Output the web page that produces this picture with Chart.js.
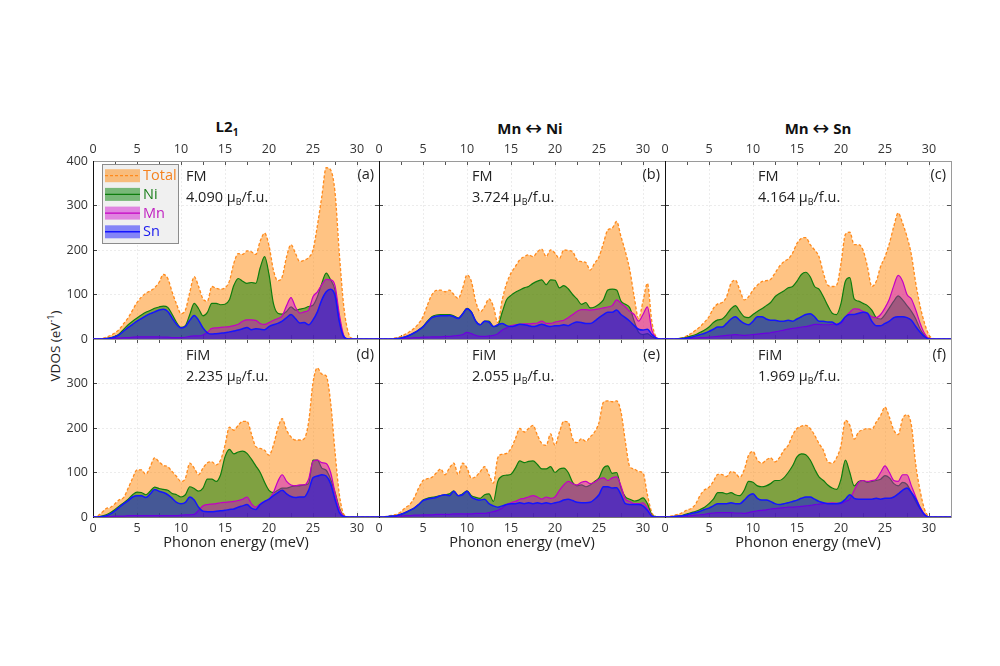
<!DOCTYPE html>
<html>
<head>
<meta charset="utf-8">
<script src="https://cdn.jsdelivr.net/npm/chart.js@4.4.0/dist/chart.umd.min.js"></script>
<style>
body { margin: 0; width: 1000px; height: 666px; background: #fff; position: relative; overflow: hidden; font-family: "Open Sans", sans-serif; }
.pan { position: absolute; }
.ttl { position: absolute; font-weight: bold; font-size: 15px; color: #111; transform: translate(-50%, -50%); white-space: nowrap; }
.ttl sub { font-size: 10px; }
.arr { font-family: "DejaVu Sans", sans-serif; font-weight: normal; font-size: 20px; line-height: 15px; vertical-align: -1px; }
#ylab { position: absolute; left: 54px; top: 346px; transform: translate(-50%, -50%) rotate(-90deg); font-size: 13.5px; color: #222; white-space: nowrap; }
#ylab sup { font-size: 9px; }
</style>
</head>
<body>
<div class="ttl" style="left:227px;top:127px">L2<sub>1</sub></div>
<div class="ttl" style="left:530px;top:128px">Mn <span class="arr">&#8596;</span> Ni</div>
<div class="ttl" style="left:818px;top:128px">Mn <span class="arr">&#8596;</span> Sn</div>
<div id="ylab">VDOS (eV<sup>-1</sup>)</div>
<script>
// energy grid (meV)
const energy = [0,0.5,1,1.5,2,2.5,3,3.5,4,4.5, 5,5.5,6,6.5,7,7.5,8,8.5,9,9.5,
  10,10.5,11,11.5,12,12.5,13,13.5,14,14.5, 15,15.5,16,16.5,17,17.5,18,18.5,19,19.5,
  20,20.5,21,21.5,22,22.5,23,23.5,24,24.5, 25,25.5,26,26.5,27,27.5,28,28.5,29,29.5,
  30,30.5,31,31.5,32,32.5];

// (a) L2_1 FM
const aTotal = [0,0,1,4,8,14,22,35,48,65, 82,94,103,108,115,127,145,136,105,78,
  57,65,105,140,118,90,85,118,114,112, 115,130,170,192,190,198,196,190,220,238,
  210,155,131,140,185,212,193,174,177,183, 200,255,320,385,380,330,190,73,15,1, 0,0,0,0,0,0];
const aNi = [0,0,0,1,3,6,12,22,32,40, 47,54,60,64,69,72,74,71,55,37,
  26,30,55,80,68,52,60,80,80,77, 78,88,120,136,130,125,127,125,160,185,
  145,80,58,56,62,72,65,67,69,73, 76,95,125,148,133,110,45,6,0,0, 0,0,0,0,0,0];
const aMn = [0,0,0,1,1,2,2,3,3,4, 5,5,5,5,5,5,4,4,3,3,
  3,4,6,7,7,9,15,24,25,26, 27,28,30,33,40,43,43,42,35,33,
  37,42,46,52,75,93,72,58,61,65, 95,106,122,134,133,120,55,8,0,0, 0,0,0,0,0,0];
const aSn = [0,0,0,1,2,5,10,18,26,33, 40,46,52,57,61,65,67,62,47,33,
  25,28,42,53,42,25,14,11,12,13, 14,16,18,20,23,26,21,23,22,21,
  28,32,35,40,48,55,46,36,37,32, 43,61,88,106,112,98,38,5,0,0, 0,0,0,0,0,0];

// (b) Mn<->Ni FM
const bTotal = [0,0,0,1,3,6,11,17,24,35, 50,76,99,109,110,106,110,100,91,114,
  144,129,84,61,73,90,73,37,88,125, 148,163,178,185,189,185,196,202,185,200,
  193,181,200,199,196,178,174,172,155,170, 185,215,245,249,264,230,196,155,95,46, 85,125,40,5,0,0];
const bNi = [0,0,0,0,1,2,5,9,14,20, 28,40,50,54,55,55,55,52,47,57,
  69,61,40,32,40,40,28,30,60,88, 98,105,110,115,118,125,130,133,122,133,
  132,115,120,113,100,90,78,82,70,72, 78,88,110,112,110,85,78,70,40,15, 10,12,5,1,0,0];
const bMn = [0,0,0,0,1,1,2,2,3,3, 4,4,5,5,5,6,6,7,8,10,
  15,12,8,6,6,7,8,12,20,25, 30,32,33,34,34,35,36,40,35,35,
  38,40,42,48,55,62,66,66,65,66, 68,70,72,75,88,80,72,62,55,40, 55,72,20,3,0,0];
const bSn = [0,0,0,0,1,2,5,9,14,20, 27,38,48,51,52,52,53,50,46,56,
  68,60,40,32,40,38,28,32,35,30, 28,30,33,32,30,28,30,33,30,28,
  30,30,32,30,35,38,37,35,35,40, 48,55,60,60,65,55,48,40,30,22, 20,22,10,2,0,0];

// (c) Mn<->Sn FM
const cTotal = [0,0,0,1,3,7,13,20,28,38, 50,69,79,82,95,125,132,110,88,95,
  110,121,129,131,134,148,163,174,180,193, 215,226,228,212,200,185,148,121,118,121,
  170,235,240,212,212,200,163,118,129,163, 185,215,253,283,260,230,189,125,73,35, 9,1,0,0,0,0];
const cNi = [0,0,0,1,2,4,7,10,15,20, 27,37,43,45,55,68,75,62,50,48,
  55,62,68,75,82,95,102,108,115,118, 130,145,150,140,118,112,95,75,58,55,
  80,130,138,90,85,80,75,65,48,45, 55,70,85,97,88,75,62,45,22,8, 1,0,0,0,0,0];
const cMn = [0,0,0,0,1,1,2,2,3,3, 4,5,6,7,8,9,10,9,8,9,
  10,11,12,13,14,16,18,20,22,24, 25,27,28,30,33,33,32,32,33,34,
  35,50,60,68,67,62,58,50,48,55, 70,90,120,143,130,100,90,65,35,12, 1,0,0,0,0,0];
const cSn = [0,0,0,0,1,2,4,7,10,13, 17,22,27,27,35,45,50,42,35,32,
  40,50,50,45,42,42,40,40,42,40, 45,50,55,57,50,40,40,38,38,32,
  38,50,55,55,58,60,58,40,30,30, 35,40,48,50,50,48,42,28,15,5, 0,0,0,0,0,0];

// (d) L2_1 FiM
const dTotal = [0,2,10,19,22,30,39,44,65,87, 106,106,96,113,133,124,116,113,102,91,
  80,87,121,110,95,110,122,124,117,128, 161,202,195,206,215,215,187,158,154,150,
  139,161,199,221,195,180,173,173,176,213, 302,335,321,317,258,147,50,6,0,0, 0,0,0,0,0,0];
const dNi = [0,0,2,5,10,17,25,32,40,50, 56,55,50,58,67,64,62,60,53,50,
  45,50,68,64,58,65,85,85,80,95, 135,152,142,146,148,143,130,115,100,78,
  60,55,60,65,65,68,70,70,72,75, 128,128,110,105,85,55,20,2,0,0, 0,0,0,0,0,0];
const dMn = [0,0,0,1,1,2,2,2,3,3, 3,3,3,3,3,3,3,3,3,3,
  4,5,5,6,15,25,28,29,30,32, 33,34,35,37,40,45,30,22,30,35,
  40,55,80,95,80,72,70,72,72,85, 125,128,122,120,100,55,18,2,0,0, 0,0,0,0,0,0];
const dSn = [0,0,1,3,7,14,22,30,37,45, 48,48,44,52,62,58,55,50,42,33,
  30,33,45,38,22,13,12,12,13,14, 15,17,18,22,25,28,20,17,28,35,
  40,48,55,60,52,46,44,45,45,60, 88,92,95,92,75,40,10,1,0,0, 0,0,0,0,0,0];

// (e) Mn<->Ni FiM
const eTotal = [0,0,2,4,6,12,21,28,43,65, 82,86,89,99,108,95,110,121,95,121,
  110,87,91,102,113,95,76,133,141,143, 154,176,199,191,199,206,184,165,161,187,
  161,191,215,213,176,167,176,170,180,191, 212,258,261,259,261,236,169,113,108,102, 99,50,10,1,0,0];
const eNi = [0,0,1,2,3,6,10,15,20,28, 38,42,44,46,48,50,52,59,48,52,
  59,48,44,42,50,52,35,80,92,94, 96,110,126,122,125,126,118,108,108,113,
  100,108,110,100,78,70,72,68,72,80, 88,110,115,98,100,65,45,40,36,38, 43,30,5,1,0,0];
const eMn = [0,0,1,1,2,2,3,3,4,4, 5,5,5,6,6,6,6,7,7,7,
  7,7,8,8,8,10,12,15,20,28, 32,35,40,42,45,48,45,40,45,42,
  45,60,72,80,75,72,78,80,75,78, 85,88,82,88,90,70,40,35,30,30, 32,20,3,0,0,0];
const eSn = [0,0,1,2,3,6,10,15,20,28, 37,40,42,44,48,50,48,58,48,50,
  58,45,40,38,40,30,25,22,25,28, 30,30,32,30,32,30,32,30,32,30,
  32,34,38,40,37,33,32,32,33,40, 50,68,68,65,66,50,30,28,28,28, 25,15,2,0,0,0];

// (f) Mn<->Sn FiM
const fTotal = [0,1,4,6,10,16,19,30,49,61, 67,80,96,95,91,102,99,89,106,139,
  147,128,121,128,133,124,133,150,161,184, 199,204,206,199,184,165,150,124,121,133,
  161,217,206,175,191,196,199,197,213,228, 247,224,195,185,221,230,206,117,58,17, 1,0,0,0,0,0];
const fNi = [0,0,1,2,4,7,10,13,17,22, 30,40,55,55,52,55,50,48,60,80,
  78,70,68,70,75,82,82,88,100,115, 135,142,140,128,108,90,82,72,65,62,
  85,128,100,70,80,82,78,80,82,85, 93,88,75,70,78,73,55,35,18,5, 0,0,0,0,0,0];
const fMn = [0,0,1,1,2,2,3,4,5,6, 8,9,10,10,10,10,9,9,8,10,
  12,14,15,16,18,19,20,21,22,22, 23,24,25,26,28,29,30,31,32,31,
  30,35,40,60,78,82,80,82,85,100, 115,100,82,80,95,95,70,45,22,6, 0,0,0,0,0,0];
const fSn = [0,0,1,2,3,5,8,10,13,17, 20,25,30,30,30,32,30,30,38,48,
  52,42,38,38,35,30,28,30,32,35, 38,42,45,45,40,35,32,30,30,30,
  32,40,50,42,40,40,40,40,42,40, 42,42,45,52,60,65,55,40,20,5, 0,0,0,0,0,0];

const states = ['FM', 'FM', 'FM', 'FiM', 'FiM', 'FiM'];
const moments = ['4.090', '3.724', '4.164', '2.235', '2.055', '1.969'];
const tags = ['(a)', '(b)', '(c)', '(d)', '(e)', '(f)'];
const xTicks = [0, 5, 10, 15, 20, 25, 30];

const series = [
  { name: 'Total', line: '#ff8a1c', fill: 'rgba(255,145,30,0.55)', text: '#f5821f', width: 1.3, dash: [3, 2] },
  { name: 'Ni', line: '#0e7d0e', fill: 'rgba(0,128,0,0.5)', text: '#1a7f1a', width: 1.2, dash: [] },
  { name: 'Mn', line: '#c400c4', fill: 'rgba(204,0,204,0.45)', text: '#c020c0', width: 1.2, dash: [] },
  { name: 'Sn', line: '#1414ff', fill: 'rgba(0,0,255,0.45)', text: '#1a1aee', width: 1.5, dash: [] }
];

const panels = [
  { row: 0, col: 0, vals: [aTotal, aNi, aMn, aSn] },
  { row: 0, col: 1, vals: [bTotal, bNi, bMn, bSn] },
  { row: 0, col: 2, vals: [cTotal, cNi, cMn, cSn] },
  { row: 1, col: 0, vals: [dTotal, dNi, dMn, dSn] },
  { row: 1, col: 1, vals: [eTotal, eNi, eMn, eSn] },
  { row: 1, col: 2, vals: [fTotal, fNi, fMn, fSn] }
];

// layout of the plot areas
const colLeft = [93, 379, 665], rowTop = [161, 339];
const PW = 286, PH = 178;
const ML = 45, MR = 10, MT = 30, MB = 45;

Chart.defaults.font.family = '"Open Sans", sans-serif';
Chart.defaults.color = '#333';

const gridCol = '#ececec';

// FM / moment / (a) texts
const panelText = {
  id: 'panelText',
  afterDraw(chart, args, o) {
    const { ctx, chartArea: a } = chart;
    const dy = o.row ? 1.5 : 0;
    ctx.save();
    ctx.fillStyle = '#222';
    ctx.textBaseline = 'middle';
    ctx.textAlign = 'left';
    ctx.font = '14.5px "Open Sans"';
    ctx.fillText(o.state, a.left + 93, a.top + 15.5 + dy);
    let x = a.left + 93;
    const y = a.top + 36.5 + dy;
    const s1 = o.moment + ' \u03bc';
    ctx.fillText(s1, x, y);
    x += ctx.measureText(s1).width;
    ctx.font = '9px "Open Sans"';
    ctx.fillText('B', x, y + 4.5);
    x += ctx.measureText('B').width;
    ctx.font = '14.5px "Open Sans"';
    ctx.fillText('/f.u.', x, y);
    ctx.textAlign = 'right';
    ctx.fillText(o.tag, a.right - 5, a.top + 14 + dy);
    ctx.restore();
  }
};

// legend box inside panel (a)
const legendBox = {
  id: 'legendBox',
  afterDraw(chart, args, o) {
    if (!o.show) return;
    const { ctx, chartArea: a } = chart;
    const x0 = a.left + 9, y0 = a.top + 3;
    ctx.save();
    ctx.fillStyle = '#f0f0f0';
    ctx.fillRect(x0, y0, 76, 79);
    ctx.strokeStyle = '#8c8c8c';
    ctx.lineWidth = 1;
    ctx.strokeRect(x0 + 0.5, y0 + 0.5, 76, 79);
    series.forEach((s, i) => {
      const cy = y0 + 11.7 + i * 18.7;
      ctx.fillStyle = s.fill;
      ctx.fillRect(x0 + 3, cy - 6.5, 35, 13);
      ctx.strokeStyle = s.line;
      ctx.lineWidth = s.width;
      ctx.setLineDash(s.dash);
      ctx.beginPath();
      ctx.moveTo(x0 + 3, cy);
      ctx.lineTo(x0 + 38, cy);
      ctx.stroke();
      ctx.setLineDash([]);
      ctx.fillStyle = s.text;
      ctx.font = '14.5px "Open Sans"';
      ctx.textBaseline = 'middle';
      ctx.fillText(s.name, x0 + 41, cy + 0.5);
    });
    ctx.restore();
  }
};

function fixSize(dim, v) {
  return function (scale) { scale[dim] = v; };
}

panels.forEach((p, k) => {
  const W = PW + ML + MR, H = PH + MT + MB;
  const box = document.createElement('div');
  box.className = 'pan';
  box.style.left = (colLeft[p.col] - ML) + 'px';
  box.style.top = (rowTop[p.row] - MT) + 'px';
  const cv = document.createElement('canvas');
  cv.width = W;
  cv.height = H;
  box.appendChild(cv);
  document.body.appendChild(box);

  const datasets = series.map((s, i) => ({
    label: s.name,
    data: energy.map((e, j) => ({ x: e, y: p.vals[i][j] })),
    borderColor: s.line,
    backgroundColor: s.fill,
    borderWidth: s.width,
    borderDash: s.dash,
    fill: 'origin',
    pointRadius: 0,
    cubicInterpolationMode: 'monotone',
    order: 4 - i
  }));

  const xGrid = c => (c.tick && c.tick.value % 5 === 0 && c.tick.value > 0 && c.tick.value <= 30) ? gridCol : 'transparent';
  const yGrid = c => (c.tick && c.tick.value > 0 && c.tick.value < 400) ? gridCol : 'transparent';
  const xLabel = show => v => (show && xTicks.includes(v)) ? String(v) : '';

  new Chart(cv, {
    type: 'line',
    data: { datasets },
    options: {
      responsive: false,
      animation: false,
      events: [],
      layout: { padding: 0 },
      plugins: {
        legend: { display: false },
        tooltip: { enabled: false },
        panelText: { row: p.row, state: states[k], moment: moments[k], tag: tags[k] },
        legendBox: { show: k === 0 }
      },
      scales: {
        x: {
          type: 'linear', position: 'bottom', min: 0, max: 32.5,
          afterFit: fixSize('height', MB),
          ticks: { stepSize: 2.5, autoSkip: false, maxRotation: 0, padding: 8, font: { size: 12.5 }, color: '#333', callback: xLabel(p.row === 1) },
          grid: { color: xGrid, tickLength: -4, tickColor: '#555' },
          border: { color: '#777', dash: [2, 2] },
          title: { display: p.row === 1, text: 'Phonon energy (meV)', font: { size: 14.5 }, color: '#222', padding: { top: 0, bottom: 10 } }
        },
        xTop: {
          type: 'linear', position: 'top', min: 0, max: 32.5, display: true,
          afterFit: fixSize('height', MT),
          ticks: { stepSize: 2.5, autoSkip: false, maxRotation: 0, padding: 8, font: { size: 12.5 }, color: '#333', callback: xLabel(p.row === 0) },
          grid: { drawOnChartArea: false, tickLength: -4, tickColor: '#555' },
          border: { color: '#9a9a9a' }
        },
        y: {
          type: 'linear', position: 'left', min: 0, max: 400,
          afterFit: fixSize('width', ML),
          ticks: {
            stepSize: 100, padding: 9, font: { size: 12.5 }, color: '#333',
            callback: v => (p.col !== 0 || (p.row === 1 && v === 400)) ? '' : String(v)
          },
          grid: { color: yGrid, tickLength: -4, tickColor: '#444' },
          border: { color: '#111', dash: [2, 2] }
        },
        yRight: {
          type: 'linear', position: 'right', min: 0, max: 400, display: true,
          afterFit: fixSize('width', MR),
          ticks: { stepSize: 100, callback: () => '' },
          grid: { drawOnChartArea: false, tickLength: -4, tickColor: '#555' },
          border: { color: '#9a9a9a' }
        }
      }
    },
    plugins: [panelText, legendBox]
  });
});
</script>
</body>
</html>
